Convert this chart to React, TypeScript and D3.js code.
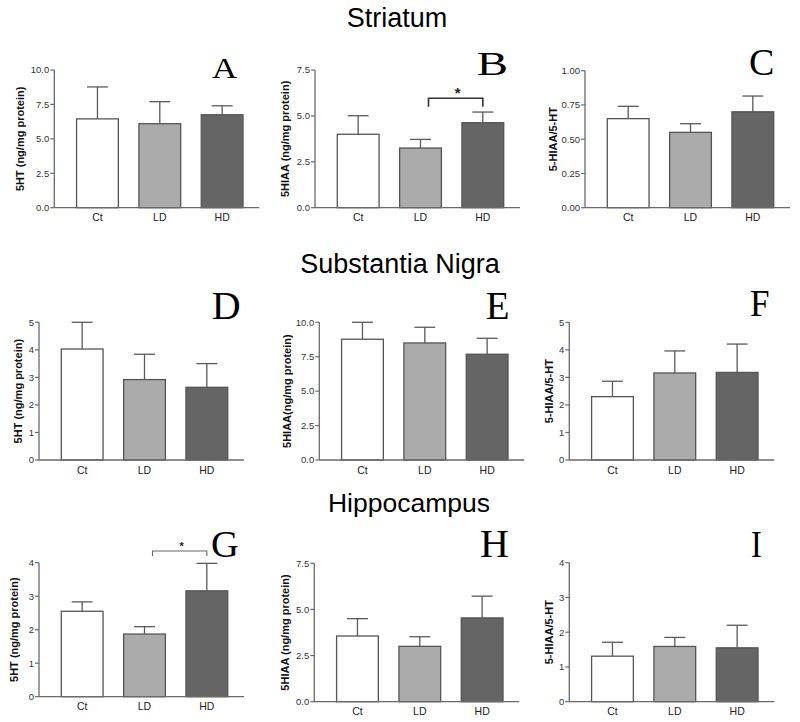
import React from "react";
import * as d3 from "d3";

// ---------- data ----------
const categories = ["Ct", "LD", "HD"];
const panelLetters = ["A", "B", "C", "D", "E", "F", "G", "H", "I"];
const regionTitles = ["Striatum", "Substantia Nigra", "Hippocampus"];
const yAxisLabels = [
  "5HT (ng/mg protein)",
  "5HIAA (ng/mg protein)",
  "5-HIAA/5-HT",
  "5HT (ng/mg protein)",
  "5HIAA(ng/mg protein)",
  "5-HIAA/5-HT",
  "5HT (ng/mg protein)",
  "5HIAA (ng/mg protein)",
  "5-HIAA/5-HT",
];
const yMaxValues = [10, 7.5, 1, 5, 10, 5, 4, 7.5, 4];
const yTickValues = [
  [0, 2.5, 5, 7.5, 10],
  [0, 2.5, 5, 7.5],
  [0, 0.25, 0.5, 0.75, 1],
  [0, 1, 2, 3, 4, 5],
  [0, 2.5, 5, 7.5, 10],
  [0, 1, 2, 3, 4, 5],
  [0, 1, 2, 3, 4],
  [0, 2.5, 5, 7.5],
  [0, 1, 2, 3, 4],
];
const yTickDecimals = [1, 1, 2, 0, 1, 0, 0, 1, 0];

const meansA = [6.45, 6.1, 6.75];
const errorsA = [2.32, 1.6, 0.65];
const meansB = [4.0, 3.25, 4.63];
const errorsB = [1.01, 0.47, 0.58];
const meansC = [0.65, 0.55, 0.7];
const errorsC = [0.09, 0.063, 0.115];
const meansD = [4.03, 2.92, 2.64];
const errorsD = [0.97, 0.92, 0.86];
const meansE = [8.77, 8.5, 7.68];
const errorsE = [1.23, 1.14, 1.16];
const meansF = [2.3, 3.16, 3.18];
const errorsF = [0.56, 0.8, 1.03];
const meansG = [2.55, 1.87, 3.16];
const errorsG = [0.28, 0.22, 0.82];
const meansH = [3.56, 3.0, 4.54];
const errorsH = [0.94, 0.52, 1.18];
const meansI = [1.31, 1.59, 1.55];
const errorsI = [0.4, 0.26, 0.65];

const allMeans = [meansA, meansB, meansC, meansD, meansE, meansF, meansG, meansH, meansI];
const allErrors = [errorsA, errorsB, errorsC, errorsD, errorsE, errorsF, errorsG, errorsH, errorsI];

// significance brackets
const sigPanels = [1, 6];
const sigFrom = ["LD", "LD"];
const sigTo = ["HD", "HD"];
const sigLevels = [5.96, 4.35];
const sigLegs = [5.5, 4.2];
const sigLabels = ["*", "*"];

// ---------- layout / style ----------
const W = 800;
const H = 722;
const barFill: Record<string, string> = { Ct: "#ffffff", LD: "#ababab", HD: "#656565" };

const panelLayout = [
  { ax: 54.3, top: 70, zero: 207.7, labelX: 20.5, lx: 212, ly: 78.3, ls: 29, lsx: 1.2 },
  { ax: 315, top: 70, zero: 207.7, labelX: 285, lx: 476.7, ly: 75, ls: 33, lsx: 1.42 },
  { ax: 585, top: 70.7, zero: 207.7, labelX: 553, lx: 749, ly: 74.5, ls: 38, lsx: 1 },
  { ax: 39, top: 322.3, zero: 460, labelX: 18, lx: 211.7, ly: 319, ls: 40, lsx: 1 },
  { ax: 319.3, top: 322.3, zero: 460, labelX: 287, lx: 485.7, ly: 319, ls: 39, lsx: 1 },
  { ax: 569.3, top: 322.3, zero: 460, labelX: 549, lx: 750, ly: 316, ls: 39, lsx: 0.9 },
  { ax: 39, top: 562.7, zero: 696.7, labelX: 14, lx: 211, ly: 556.5, ls: 37, lsx: 1.04 },
  { ax: 314.3, top: 563.3, zero: 701.7, labelX: 285, lx: 480, ly: 556.7, ls: 40, lsx: 1 },
  { ax: 569.3, top: 562.7, zero: 701.7, labelX: 549, lx: 751, ly: 556.7, ls: 38, lsx: 0.85 },
];
const titleLayout = [
  { x: 397, y: 26.7, size: 27 },
  { x: 400, y: 272.5, size: 27 },
  { x: 409, y: 512, size: 26.5 },
];

const sans = "'Liberation Sans', Arial, Helvetica, sans-serif";
const serif = "'Liberation Serif', 'Times New Roman', serif";

function Panel({ i }: { i: number }) {
  const L = panelLayout[i];
  const y = d3.scaleLinear().domain([0, yMaxValues[i]]).range([L.zero, L.top]);
  const x = d3
    .scaleBand<string>()
    .domain(categories)
    .range([L.ax + 12, L.ax + 12 + 187])
    .paddingInner(0.33)
    .paddingOuter(0.165);
  const bw = x.bandwidth();
  const means = allMeans[i];
  const errs = allErrors[i];
  const fmt = d3.format(`.${yTickDecimals[i]}f`);
  const axisColor = "#6a6a6a";
  const sigIdx = sigPanels.indexOf(i);

  return (
    <g>
      {categories.map((c, k) => {
        const x0 = x(c)!;
        const yTop = y(means[k]);
        const yErr = y(means[k] + errs[k]);
        const cx = x0 + bw / 2;
        return (
          <g key={c}>
            <line x1={cx} x2={cx} y1={yTop} y2={yErr} stroke="#5a5a5a" strokeWidth={1.3} />
            <line x1={cx - bw / 4} x2={cx + bw / 4} y1={yErr} y2={yErr} stroke="#5a5a5a" strokeWidth={1.3} />
            <rect
              x={x0}
              y={yTop}
              width={bw}
              height={L.zero - yTop}
              fill={barFill[c]}
              stroke="#555"
              strokeWidth={1.3}
            />
            <text
              x={cx}
              y={L.zero + 13.5}
              textAnchor="middle"
              fontFamily={sans}
              fontSize={10.5}
              fill="#222"
            >
              {c}
            </text>
          </g>
        );
      })}
      <line x1={L.ax} x2={L.ax} y1={L.top} y2={L.zero} stroke={axisColor} strokeWidth={1.3} />
      {yTickValues[i].map((t) => (
        <g key={t}>
          <line x1={L.ax - 4} x2={L.ax} y1={y(t)} y2={y(t)} stroke={axisColor} strokeWidth={1.2} />
          <text
            x={L.ax - 5}
            y={y(t)}
            dy="0.35em"
            textAnchor="end"
            fontFamily={sans}
            fontSize={9.5}
            fill="#333"
          >
            {fmt(t)}
          </text>
        </g>
      ))}
      <line x1={L.ax} x2={L.ax + 205} y1={L.zero} y2={L.zero} stroke={axisColor} strokeWidth={1.3} />
      <text
        transform={`translate(${L.labelX},${(L.top + L.zero) / 2}) rotate(-90)`}
        textAnchor="middle"
        dy="0.35em"
        fontFamily={sans}
        fontWeight="bold"
        fontSize={11}
        fill="#111"
      >
        {yAxisLabels[i]}
      </text>
      <text
        transform={`translate(${L.lx},${L.ly}) scale(${L.lsx},1)`}
        fontFamily={serif}
        fontSize={L.ls}
        fill="#000"
      >
        {panelLetters[i]}
      </text>
      {sigIdx >= 0 &&
        (() => {
          const xa = x(sigFrom[sigIdx])! + bw / 2 + 8;
          const xb = x(sigTo[sigIdx])! + bw / 2;
          const yb = y(sigLevels[sigIdx]);
          const leg = y(sigLegs[sigIdx]);
          const big = sigIdx === 0;
          return (
            <g>
              <path
                d={`M${xa},${leg}V${yb}H${xb}V${leg}`}
                fill="none"
                stroke={big ? "#333" : "#666"}
                strokeWidth={big ? 1.6 : 1.1}
              />
              <text
                x={(xa + xb) / 2 + 2}
                y={yb - (big ? 0 : 1)}
                textAnchor="middle"
                fontFamily={sans}
                fontWeight="bold"
                fontSize={big ? 15 : 11}
                fill="#222"
              >
                {sigLabels[sigIdx]}
              </text>
            </g>
          );
        })()}
    </g>
  );
}

export default function App() {
  return (
    <svg
      width={W}
      height={H}
      viewBox={`0 0 ${W} ${H}`}
      style={{ position: "absolute", left: 0, top: 0, background: "#fff" }}
    >
      <rect width={W} height={H} fill="#fff" />
      {regionTitles.map((t, k) => (
        <text
          key={t}
          x={titleLayout[k].x}
          y={titleLayout[k].y}
          textAnchor="middle"
          fontFamily={sans}
          fontSize={titleLayout[k].size}
          fill="#000"
        >
          {t}
        </text>
      ))}
      {panelLetters.map((_, i) => (
        <Panel key={i} i={i} />
      ))}
    </svg>
  );
}
